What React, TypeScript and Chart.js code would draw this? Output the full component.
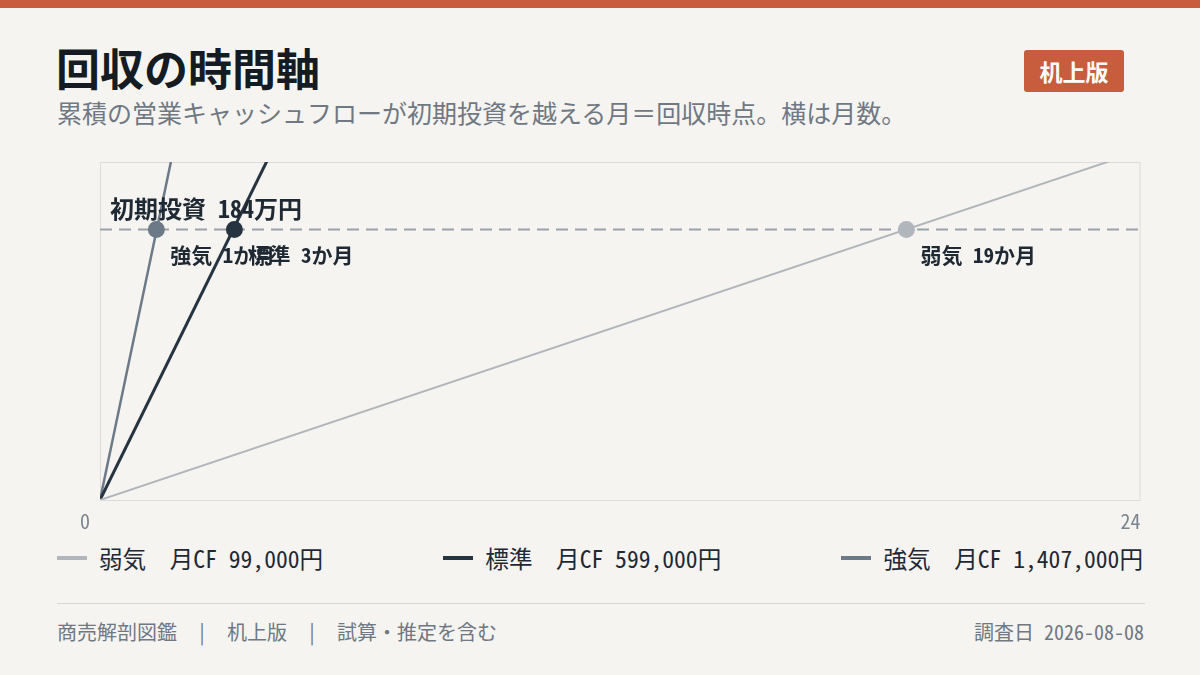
import React, { useEffect, useRef } from 'react';
import { Chart, registerables } from 'chart.js';

Chart.register(...registerables);

// months on the x axis
const monthRange = [0, 24];
const scenarioNames = ['弱気', '標準', '強気'];
const monthlyCF = [99000, 599000, 1407000];
// cumulative cash flow at month 0 and month 24
const weakCumulative = [0, 2376000];
const baseCumulative = [0, 14376000];
const strongCumulative = [0, 33768000];
const initialInvestment = 1840000;
const paybackMonths = [18.6, 3.1, 1.3];
const paybackLabels = ['弱気 19か月', '標準 3か月', '強気 1か月'];
const xTickLabels = ['0', '24'];
const yMax = 2300000;

const colors = ['#b1b6bc', '#263340', '#6c7986'];
const FONT = '"Noto Sans CJK JP", "Noto Sans", sans-serif';
const MONO = '"Noto Sans Mono CJK JP", "Noto Sans CJK JP", monospace';

const lineOf = (vals: number[]) => monthRange.map((m, i) => ({ x: m, y: vals[i] }));

const overlayPlugin = {
  id: 'overlay',
  beforeDatasetsDraw(chart: any) {
    const { ctx, chartArea: a } = chart;
    ctx.save();
    ctx.strokeStyle = '#dedcd8';
    ctx.lineWidth = 1;
    ctx.strokeRect(a.left + 0.5, a.top + 0.5, a.right - a.left - 1, a.bottom - a.top);
    ctx.restore();
  },
  afterDatasetsDraw(chart: any) {
    const { ctx, scales } = chart;
    const xs = scales.x;
    const ys = scales.y;
    ctx.save();
    ctx.fillStyle = '#1f2933';
    ctx.textBaseline = 'middle';
    ctx.textAlign = 'left';
    const iy = ys.getPixelForValue(initialInvestment);
    ctx.font = `bold 24px ${MONO}`;
    ctx.fillText(`初期投資 ${initialInvestment / 10000}万円`, xs.getPixelForValue(0) + 10, iy - 21);
    ctx.font = `bold 21px ${MONO}`;
    paybackMonths.forEach((m, i) => {
      ctx.fillText(paybackLabels[i], xs.getPixelForValue(m) + 14, iy + 25);
    });
    ctx.fillStyle = '#7b8590';
    ctx.font = `20px ${MONO}`;
    ctx.textAlign = 'center';
    ctx.fillText(xTickLabels[0], xs.getPixelForValue(monthRange[0]) - 15, ys.bottom + 21);
    ctx.fillText(xTickLabels[1], xs.getPixelForValue(monthRange[1]) - 10, ys.bottom + 21);
    ctx.restore();
  },
};

const PaybackChart: React.FC = () => {
  const ref = useRef<HTMLCanvasElement>(null);
  useEffect(() => {
    if (!ref.current) return;
    const datasets: any[] = [
      {
        label: '初期投資',
        data: lineOf([initialInvestment, initialInvestment]),
        borderColor: '#9aa1a9',
        borderWidth: 2,
        borderDash: [12, 7],
        pointRadius: 0,
        order: 3,
      },
      ...[weakCumulative, baseCumulative, strongCumulative].map((vals, i) => ({
        label: scenarioNames[i],
        data: lineOf(vals),
        borderColor: colors[i],
        borderWidth: [2, 3, 2.5][i],
        pointRadius: 0,
        order: 2,
      })),
      ...paybackMonths.map((m, i) => ({
        label: paybackLabels[i],
        data: [{ x: m, y: initialInvestment }],
        showLine: false,
        pointRadius: 8.5,
        pointBackgroundColor: colors[i],
        pointBorderWidth: 0,
        order: 1,
      })),
    ];
    const chart = new Chart(ref.current, {
      type: 'line',
      data: { datasets },
      options: {
        animation: false,
        responsive: true,
        maintainAspectRatio: false,
        layout: { padding: { left: 43, right: 3, top: 12, bottom: 35 } },
        plugins: { legend: { display: false }, tooltip: { enabled: false } },
        scales: {
          x: { type: 'linear', min: 0, max: 24, display: false },
          y: { type: 'linear', min: 0, max: yMax, display: false },
        },
      },
      plugins: [overlayPlugin],
    });
    return () => chart.destroy();
  }, []);
  return (
    <div style={{ position: 'absolute', left: 57, top: 150, width: 1092, height: 385 }}>
      <canvas ref={ref} />
    </div>
  );
};

const fmt = (n: number) => n.toLocaleString('en-US');

export default function App() {
  return (
    <div
      style={{
        position: 'fixed',
        inset: 0,
        width: 1200,
        height: 675,
        background: '#f5f4f0',
        fontFamily: FONT,
        overflow: 'hidden',
      }}
    >
      <div style={{ position: 'absolute', left: 0, top: 0, width: 1200, height: 8, background: '#c95c3c' }} />
      <div
        style={{
          position: 'absolute',
          left: 56,
          top: 37,
          fontSize: 44,
          fontWeight: 700,
          color: '#151b23',
          lineHeight: '60px',
        }}
      >
        回収の時間軸
      </div>
      <div
        style={{
          position: 'absolute',
          left: 1024,
          top: 50,
          width: 100,
          height: 42,
          background: '#c85d3e',
          borderRadius: 3,
          color: '#ffffff',
          fontSize: 23,
          fontWeight: 600,
          lineHeight: '42px',
          textAlign: 'center',
        }}
      >
        机上版
      </div>
      <div style={{ position: 'absolute', left: 57, top: 95, fontSize: 25, color: '#6f7883', lineHeight: '34px' }}>
        累積の営業キャッシュフローが初期投資を越える月＝回収時点。横は月数。
      </div>
      <PaybackChart />
      <div
        style={{
          position: 'absolute',
          left: 57,
          width: 1086,
          top: 540,
          height: 36,
          display: 'flex',
          justifyContent: 'space-between',
          alignItems: 'center',
        }}
      >
        {scenarioNames.map((name, i) => (
          <div
            key={name}
            style={{ display: 'flex', alignItems: 'center', fontSize: 23.6, color: '#1f2933', fontFamily: MONO }}
          >
            <span style={{ display: 'inline-block', width: 30, height: 4, background: colors[i], marginRight: 12 }} />
            <span style={{ whiteSpace: 'pre' }}>{`${name}　月CF ${fmt(monthlyCF[i])}円`}</span>
          </div>
        ))}
      </div>
      <div style={{ position: 'absolute', left: 57, top: 603, width: 1088, height: 1, background: '#d8d6d2' }} />
      <div
        style={{
          position: 'absolute',
          left: 57,
          top: 617,
          fontSize: 20,
          color: '#6f7883',
          whiteSpace: 'pre',
          lineHeight: '30px',
          fontFamily: MONO,
        }}
      >
        {'商売解剖図鑑　|　机上版　|　試算・推定を含む'}
      </div>
      <div
        style={{
          position: 'absolute',
          right: 56,
          top: 617,
          fontSize: 20,
          color: '#6f7883',
          whiteSpace: 'pre',
          lineHeight: '30px',
          fontFamily: MONO,
        }}
      >
        {'調査日 2026-08-08'}
      </div>
    </div>
  );
}
